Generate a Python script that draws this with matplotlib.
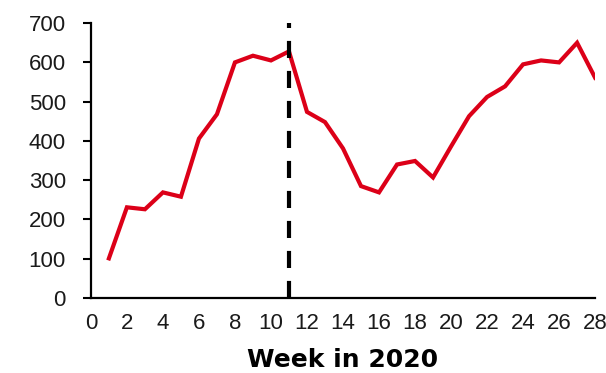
import matplotlib
matplotlib.use("Agg")
import matplotlib.pyplot as plt

weeks = list(range(1, 29))
values = [101, 231, 226, 269, 258, 406, 468, 600, 617, 605, 628, 474, 448, 381,
          285, 269, 340, 349, 307, 386, 463, 512, 539, 595, 605, 600, 650, 561]
marker_week = 11
xticks = list(range(0, 29, 2))
yticks = list(range(0, 701, 100))

fig = plt.figure(figsize=(6.06, 3.73), dpi=100)
ax = fig.add_axes([0.150, 0.201, 0.832, 0.737])

ax.plot(weeks, values, color="#dc0018", linewidth=3.0, solid_joinstyle="miter")
ax.plot([marker_week, marker_week], [0, 700], color="black", linewidth=3.0,
        linestyle=(0, (4.1, 3.1)), clip_on=True)

ax.set_xlim(0, 28)
ax.set_ylim(0, 700)
ax.set_xticks(xticks)
ax.set_yticks(yticks)
ax.tick_params(axis="x", length=0, pad=11)
ax.tick_params(axis="y", length=6, width=1.5, pad=12)
for lab in ax.get_xticklabels() + ax.get_yticklabels():
    lab.set_fontfamily("Liberation Sans")
    lab.set_fontsize(16)
    lab.set_color("#1a1a1a")

for s in ["top", "right"]:
    ax.spines[s].set_visible(False)
for s in ["left", "bottom"]:
    ax.spines[s].set_linewidth(1.6)

ax.set_xlabel("Week in 2020", fontfamily="DejaVu Sans", fontweight="bold",
              fontsize=18, labelpad=10)

fig.savefig("out.png", dpi=100)
